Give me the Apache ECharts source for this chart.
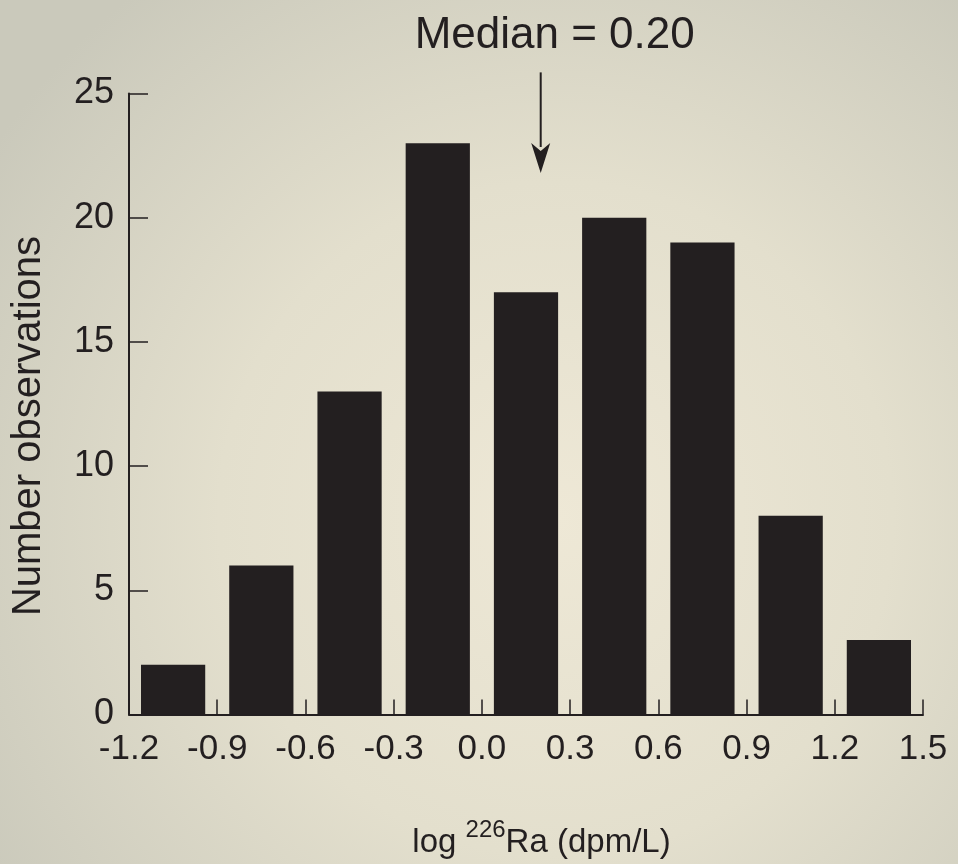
<!DOCTYPE html>
<html>
<head>
<meta charset="utf-8">
<script src="https://cdn.jsdelivr.net/npm/echarts@6/dist/echarts.min.js"></script>
<style>html,body{margin:0;padding:0;}#c{width:958px;height:864px;}</style>
</head>
<body>
<div id="c"></div>
<script>
// Histogram bins (log 226Ra, dpm/L) and counts
var binEdges = [-1.2, -0.9, -0.6, -0.3, 0.0, 0.3, 0.6, 0.9, 1.2, 1.5];
var counts = [2, 6, 13, 23, 17, 20, 19, 8, 3];
var xTickLabels = ['-1.2', '-0.9', '-0.6', '-0.3', '0.0', '0.3', '0.6', '0.9', '1.2', '1.5'];
var yTickLabels = ['0', '5', '10', '15', '20', '25'];
var medianValue = 0.20;
var medianText = 'Median = 0.20';
var arrowTopY = 25.85, arrowTipY = 21.8;

var INK = '#231f20';
var FONT = '"Liberation Sans", Arial, Helvetica, sans-serif';

var barData = [];
for (var i = 0; i < counts.length; i++) {
  barData.push([binEdges[i], binEdges[i + 1], counts[i]]);
}

var chart = echarts.init(document.getElementById('c'), null, {width: 958, height: 864});

var option = {
  backgroundColor: {
    type: 'radial', x: 0.58, y: 0.6, r: 0.78,
    colorStops: [
      {offset: 0, color: '#eee8d6'},
      {offset: 0.5, color: '#e3dfcd'},
      {offset: 1, color: '#cac9bb'}
    ]
  },
  animation: false,
  grid: {left: 129, right: 35, top: 93.5, bottom: 148},
  xAxis: {
    type: 'value', min: -1.2, max: 1.5, interval: 0.3,
    splitLine: {show: false},
    axisLine: {show: true, onZero: false, lineStyle: {color: INK, width: 2}},
    axisTick: {show: true, inside: true, length: 15, lineStyle: {color: INK, width: 1.5}},
    axisLabel: {
      margin: 17, color: INK, fontSize: 35, fontFamily: FONT,
      formatter: function (v) { return xTickLabels[Math.round((v - binEdges[0]) / 0.3)]; }
    },
    name: '{m|log }{s|226}{m|Ra (dpm/L)}',
    nameLocation: 'middle', nameGap: 104,
    nameTextStyle: {
      padding: [0, 0, 0, 31],
      rich: {
        m: {fontSize: 33, fontFamily: FONT, color: INK, lineHeight: 48, verticalAlign: 'middle'},
        s: {fontSize: 24, fontFamily: FONT, color: INK, lineHeight: 24, verticalAlign: 'top'}
      }
    }
  },
  yAxis: {
    type: 'value', min: 0, max: 25, interval: 5,
    splitLine: {show: false},
    axisLine: {show: true, onZero: false, lineStyle: {color: INK, width: 2}},
    axisTick: {show: true, inside: true, length: 19, lineStyle: {color: INK, width: 1.5}},
    axisLabel: {
      margin: 15, color: INK, fontSize: 36, fontFamily: FONT,
      formatter: function (v) { return yTickLabels[Math.round(v / 5)]; }
    },
    name: 'Number observations',
    nameLocation: 'middle', nameRotate: 90, nameGap: 80,
    nameTextStyle: {fontSize: 40, fontFamily: FONT, color: INK, padding: [0, 44, 0, 0]}
  },
  series: [{
    type: 'custom',
    data: barData,
    encode: {x: [0, 1], y: 2},
    renderItem: function (params, api) {
      var p0 = api.coord([api.value(0), api.value(2)]);
      var p1 = api.coord([api.value(1), 0]);
      var w = p1[0] - p0[0];
      var inset = w * 0.136;
      return {
        type: 'rect',
        shape: {x: p0[0] + inset, y: p0[1], width: w - 2 * inset, height: p1[1] - p0[1]},
        style: {fill: INK}
      };
    },
    z: 1
  }]
};
chart.setOption(option);

var arrowTop = chart.convertToPixel({xAxisIndex: 0, yAxisIndex: 0}, [medianValue, arrowTopY]);
var arrowTip = chart.convertToPixel({xAxisIndex: 0, yAxisIndex: 0}, [medianValue, arrowTipY]);
var headLen = 30, headHalf = 9.5;
chart.setOption({
  graphic: [
    {type: 'line', shape: {x1: arrowTop[0], y1: arrowTop[1], x2: arrowTip[0], y2: arrowTip[1] - headLen + 4},
     style: {stroke: INK, lineWidth: 2}},
    {type: 'polygon', shape: {points: [
      [arrowTip[0], arrowTip[1]],
      [arrowTip[0] - headHalf, arrowTip[1] - headLen],
      [arrowTip[0], arrowTip[1] - headLen + 8],
      [arrowTip[0] + headHalf, arrowTip[1] - headLen]
    ]}, style: {fill: INK}},
    {type: 'text', x: arrowTop[0] + 14, y: 14,
     style: {text: medianText, fill: INK, fontSize: 44, fontFamily: FONT, align: 'center', verticalAlign: 'top'}}
  ]
});
</script>
</body>
</html>
